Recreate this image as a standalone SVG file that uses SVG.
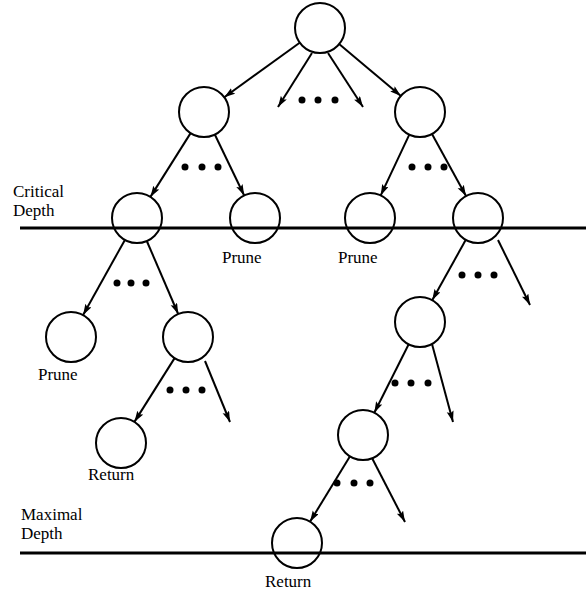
<svg xmlns="http://www.w3.org/2000/svg" width="586" height="596" viewBox="0 0 586 596">
<style>
.n{fill:none;stroke:#000;stroke-width:2}
.e{stroke:#000;stroke-width:2;fill:none;marker-end:url(#ah)}
.d{fill:#000}
.lv{stroke:#000;stroke-width:3}
text{font-family:"Liberation Serif","Times New Roman",serif;font-size:17px;fill:#000}
</style>
<defs>
<marker id="ah" markerUnits="userSpaceOnUse" markerWidth="12" markerHeight="8" refX="11" refY="3.5" orient="auto">
<path d="M0,0 L11,3.5 L0,7 L2,3.5 z" fill="#000"/>
</marker>
</defs>
<g id="levels">
<line class="lv" x1="20" y1="228" x2="586" y2="228"/>
<line class="lv" x1="20" y1="553" x2="586" y2="553"/>
<text x="13" y="197">Critical</text>
<text x="13" y="216">Depth</text>
<text x="21" y="520">Maximal</text>
<text x="21" y="539">Depth</text>
</g>
<g id="n0"><circle class="n" cx="320" cy="28" r="25"/></g>
<g id="n1"><circle class="n" cx="204" cy="112" r="25"/></g>
<g id="n2"><circle class="n" cx="420" cy="112" r="25"/></g>
<g id="n3"><circle class="n" cx="137" cy="218" r="25"/></g>
<g id="n4"><circle class="n" cx="255" cy="218" r="25"/><text x="222" y="263">Prune</text></g>
<g id="n5"><circle class="n" cx="370" cy="218" r="25"/><text x="338" y="263">Prune</text></g>
<g id="n6"><circle class="n" cx="478" cy="218" r="25"/></g>
<g id="n7"><circle class="n" cx="71" cy="337" r="25"/><text x="38" y="380">Prune</text></g>
<g id="n8"><circle class="n" cx="188" cy="337" r="25"/></g>
<g id="n9"><circle class="n" cx="121" cy="443" r="25"/><text x="88" y="480">Return</text></g>
<g id="n10"><circle class="n" cx="420" cy="322" r="25"/></g>
<g id="n11"><circle class="n" cx="363" cy="435" r="25"/></g>
<g id="n12"><circle class="n" cx="297" cy="543" r="25"/><text x="265" y="587">Return</text></g>
<g id="connectors">
<line class="e" x1="299.7" y1="42.7" x2="224.3" y2="97.3"/>
<line class="e" x1="339.1" y1="44.1" x2="400.9" y2="95.9"/>
<line class="e" x1="312" y1="53" x2="278" y2="107"/>
<line class="e" x1="328" y1="53" x2="363" y2="107"/>
<line class="e" x1="190.6" y1="133.1" x2="150.4" y2="196.9"/>
<line class="e" x1="214.8" y1="134.5" x2="244.2" y2="195.5"/>
<line class="e" x1="409.3" y1="134.6" x2="380.7" y2="195.4"/>
<line class="e" x1="432" y1="133.9" x2="466" y2="196.1"/>
<line class="e" x1="124.9" y1="239.9" x2="83.1" y2="315.1"/>
<line class="e" x1="146.8" y1="241" x2="178.2" y2="314"/>
<line class="e" x1="174.6" y1="358.1" x2="134.4" y2="421.9"/>
<line class="e" x1="205" y1="361" x2="230" y2="422"/>
<line class="e" x1="465.8" y1="239.8" x2="432.2" y2="300.2"/>
<line class="e" x1="498" y1="240" x2="530" y2="305"/>
<line class="e" x1="408.7" y1="344.3" x2="374.3" y2="412.7"/>
<line class="e" x1="432" y1="344" x2="453" y2="422"/>
<line class="e" x1="350" y1="456.3" x2="310" y2="521.7"/>
<line class="e" x1="372" y1="458" x2="405" y2="522"/>
</g>
<g id="dots">
<circle class="d" cx="302" cy="100" r="3.5"/><circle class="d" cx="318" cy="100" r="3.5"/><circle class="d" cx="335" cy="100" r="3.5"/>
<circle class="d" cx="185" cy="167" r="3.5"/><circle class="d" cx="202" cy="167" r="3.5"/><circle class="d" cx="218" cy="167" r="3.5"/>
<circle class="d" cx="412" cy="167" r="3.5"/><circle class="d" cx="428" cy="167" r="3.5"/><circle class="d" cx="444" cy="167" r="3.5"/>
<circle class="d" cx="117" cy="283" r="3.5"/><circle class="d" cx="131" cy="283" r="3.5"/><circle class="d" cx="146" cy="283" r="3.5"/>
<circle class="d" cx="462" cy="275" r="3.5"/><circle class="d" cx="478" cy="275" r="3.5"/><circle class="d" cx="494" cy="275" r="3.5"/>
<circle class="d" cx="170" cy="390" r="3.5"/><circle class="d" cx="186" cy="390" r="3.5"/><circle class="d" cx="202" cy="390" r="3.5"/>
<circle class="d" cx="395" cy="383" r="3.5"/><circle class="d" cx="411" cy="383" r="3.5"/><circle class="d" cx="428" cy="383" r="3.5"/>
<circle class="d" cx="337" cy="483" r="3.5"/><circle class="d" cx="354" cy="483" r="3.5"/><circle class="d" cx="370" cy="483" r="3.5"/>
</g>
</svg>
